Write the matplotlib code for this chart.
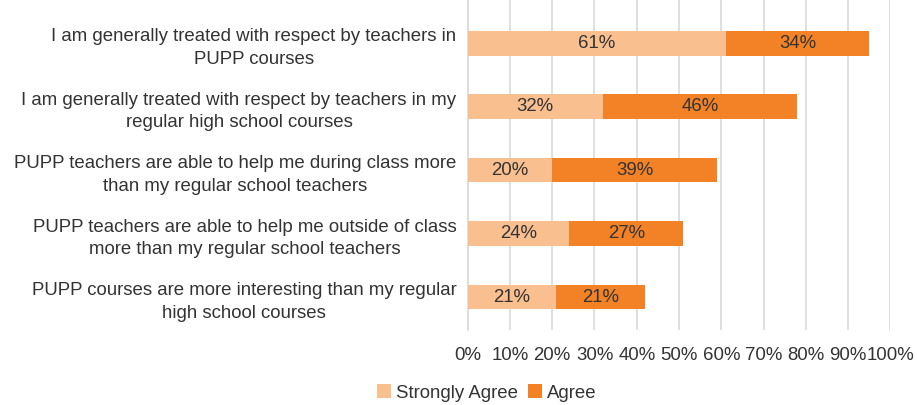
import matplotlib
matplotlib.use("Agg")
import matplotlib.pyplot as plt
from matplotlib.ticker import PercentFormatter

plt.rcParams["font.family"] = ["Liberation Sans", "DejaVu Sans"]

# survey statements, top to bottom
statements = [
    "I am generally treated with respect by teachers in\nPUPP courses",
    "I am generally treated with respect by teachers in my\nregular high school courses",
    "PUPP teachers are able to help me during class more\nthan my regular school teachers",
    "PUPP teachers are able to help me outside of class\nmore than my regular school teachers",
    "PUPP courses are more interesting than my regular\nhigh school courses",
]
strongly_agree = [61, 32, 20, 24, 21]
agree = [34, 46, 39, 27, 21]
xticks = list(range(0, 101, 10))

light = "#F9BF8F"
dark = "#F38226"
txt = "#333333"
fs = 13.4

fig = plt.figure(figsize=(9.17, 4.05), dpi=100)
ax = fig.add_axes([0.510, 0.185, 0.461, 0.815])

ypos = list(range(len(statements)))[::-1]
h = 0.39
b1 = ax.barh(ypos, strongly_agree, height=h, color=light, label="Strongly Agree", zorder=3)
b2 = ax.barh(ypos, agree, left=strongly_agree, height=h, color=dark, label="Agree", zorder=3)
ax.bar_label(b1, labels=[f"{v}%" for v in strongly_agree], label_type="center", fontsize=fs, color=txt)
ax.bar_label(b2, labels=[f"{v}%" for v in agree], label_type="center", fontsize=fs, color=txt)

ax.set_xlim(0, 100)
ax.set_ylim(-0.52, 4.68)
ax.set_xticks(xticks)
ax.xaxis.set_major_formatter(PercentFormatter(decimals=0))
ax.set_yticks(ypos)
ax.set_yticklabels(statements, ha="right", multialignment="center", linespacing=1.45,
                   fontsize=fs, color=txt)
ax.tick_params(axis="y", length=0, pad=8)
ax.tick_params(axis="x", length=0, pad=12, labelsize=fs, labelcolor=txt)

ax.grid(axis="x", color="#D9D9D9", linewidth=1.2, zorder=0)
for s in ["top", "right", "bottom"]:
    ax.spines[s].set_visible(False)
ax.spines["left"].set_color("#D9D9D9")
ax.spines["left"].set_linewidth(1.2)

fig.legend(handles=[b1, b2], loc="lower center", bbox_to_anchor=(0.531, -0.033), ncol=2,
           frameon=False, fontsize=fs, handlelength=0.75, handleheight=0.75,
           handletextpad=0.3, columnspacing=0.5, labelcolor=txt)

fig.savefig("out.png", dpi=100)
